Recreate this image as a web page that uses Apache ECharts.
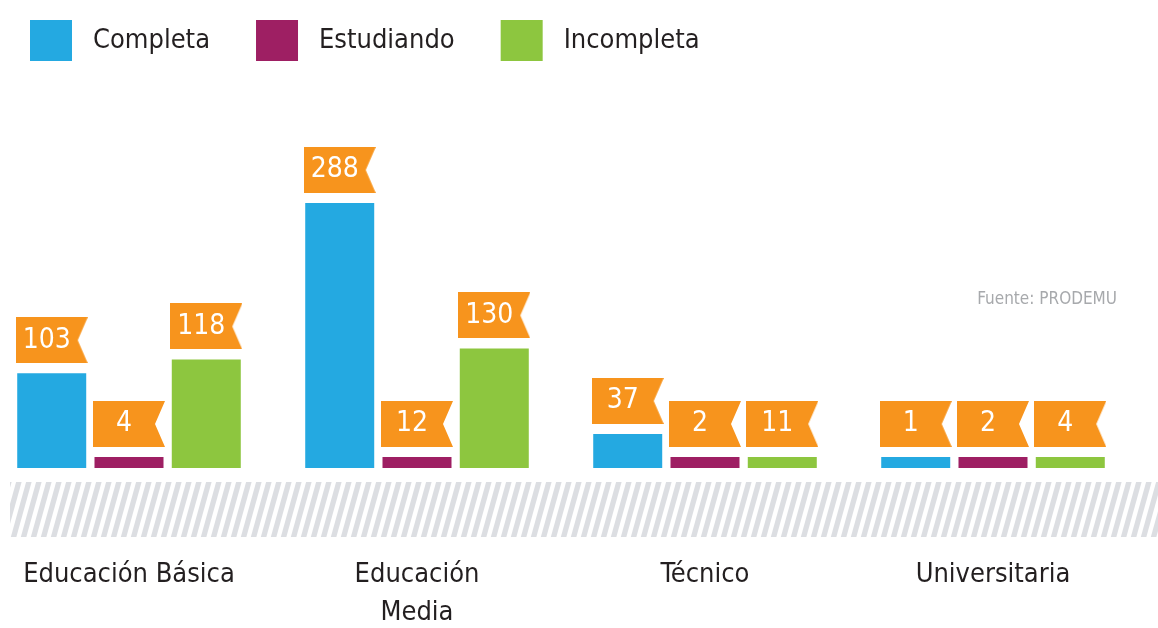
<!DOCTYPE html>
<html>
<head>
<meta charset="utf-8">
<script src="https://cdn.jsdelivr.net/npm/echarts@6/dist/echarts.min.js"></script>
<style>
html,body{margin:0;padding:0;background:#fff;}
#main{width:1158px;height:628px;}
</style>
</head>
<body>
<div id="main"></div>
<script>
var categories = ['Educación Básica', 'Educación\nMedia', 'Técnico', 'Universitaria'];
var seriesNames = ['Completa', 'Estudiando', 'Incompleta'];
var completa = [103, 288, 37, 1];
var estudiando = [4, 12, 2, 2];
var incompleta = [118, 130, 11, 4];
var colors = ['#24a9e1', '#9e1f63', '#8dc63f'];
var fontName = "'Liberation Sans Narrow', 'DejaVu Sans Condensed', sans-serif";

// orange flag with notch on the right, used as label background
function makeFlag(){
	var c = document.createElement('canvas');
	c.width = 72; c.height = 46;
	var ctx = c.getContext('2d');
	ctx.fillStyle = '#f7941d';
	ctx.beginPath();
	ctx.moveTo(0,0);
	ctx.lineTo(72,0);
	ctx.lineTo(62,23);
	ctx.lineTo(72,46);
	ctx.lineTo(0,46);
	ctx.closePath();
	ctx.fill();
	return c;
}
// diagonal stripes for the band under the bars (period 10px)
function makeStripes(){
	var c = document.createElement('canvas');
	c.width = 30; c.height = 108;
	var ctx = c.getContext('2d');
	ctx.fillStyle = '#dcdee2';
	for(var k = -4; k <= 4; k++){
		var o = k*10;
		ctx.beginPath();
		ctx.moveTo(o,108);
		ctx.lineTo(o+5.5,108);
		ctx.lineTo(o+35.5,0);
		ctx.lineTo(o+30,0);
		ctx.closePath();
		ctx.fill();
	}
	return c;
}
var flag = makeFlag();
var stripes = makeStripes();

function barSeries(name, data, color){
	return {
		name: name,
		type: 'bar',
		data: data,
		barWidth: 69,
		barGap: '12%',
		barMinHeight: 11,
		itemStyle: {color: color},
		label: {
			show: true,
			position: 'top',
			distance: 10,
			formatter: '{c}',
			color: '#fff',
			fontFamily: fontName,
			fontSize: 28,
			width: 62,
			height: 46,
			lineHeight: 46,
			padding: [0, 10, 0, 0],
			align: 'center',
			backgroundColor: {image: flag}
		}
	};
}

var myChart = echarts.init(document.getElementById('main'));
var option = {
	backgroundColor: '#fff',
	animation: false,
	legend: {
		left: 25,
		top: 15,
		icon: 'rect',
		itemWidth: 42,
		itemHeight: 41,
		itemGap: 46,
		data: seriesNames,
		textStyle: {
			fontFamily: fontName,
			fontSize: 27,
			color: '#231f20',
			padding: [0, 0, 0, 16]
		}
	},
	grid: {left: 129, right: 165, top: 192, bottom: 160, containLabel: false, outerBoundsMode: 'none'},
	xAxis: {
		type: 'category',
		data: categories,
		boundaryGap: false,
		axisLine: {show: false},
		axisTick: {show: false},
		axisLabel: {
			margin: 88,
			interval: 0,
			fontFamily: fontName,
			fontSize: 27,
			lineHeight: 38,
			color: '#231f20',
			verticalAlign: 'top'
		}
	},
	yAxis: {
		type: 'value',
		min: 0,
		max: 300,
		show: false,
		splitLine: {show: false}
	},
	graphic: [
		{
			type: 'rect',
			z: -1,
			shape: {x: 10, y: 482, width: 1148, height: 55},
			style: {fill: {image: stripes, repeat: 'repeat'}}
		},
		{
			type: 'text',
			right: 41,
			top: 291,
			style: {
				text: 'Fuente: PRODEMU',
				fontFamily: fontName,
				fontSize: 17,
				fill: '#a7a9ac'
			}
		}
	],
	series: [
		barSeries(seriesNames[0], completa, colors[0]),
		barSeries(seriesNames[1], estudiando, colors[1]),
		barSeries(seriesNames[2], incompleta, colors[2])
	]
};
myChart.setOption(option);
</script>
</body>
</html>
